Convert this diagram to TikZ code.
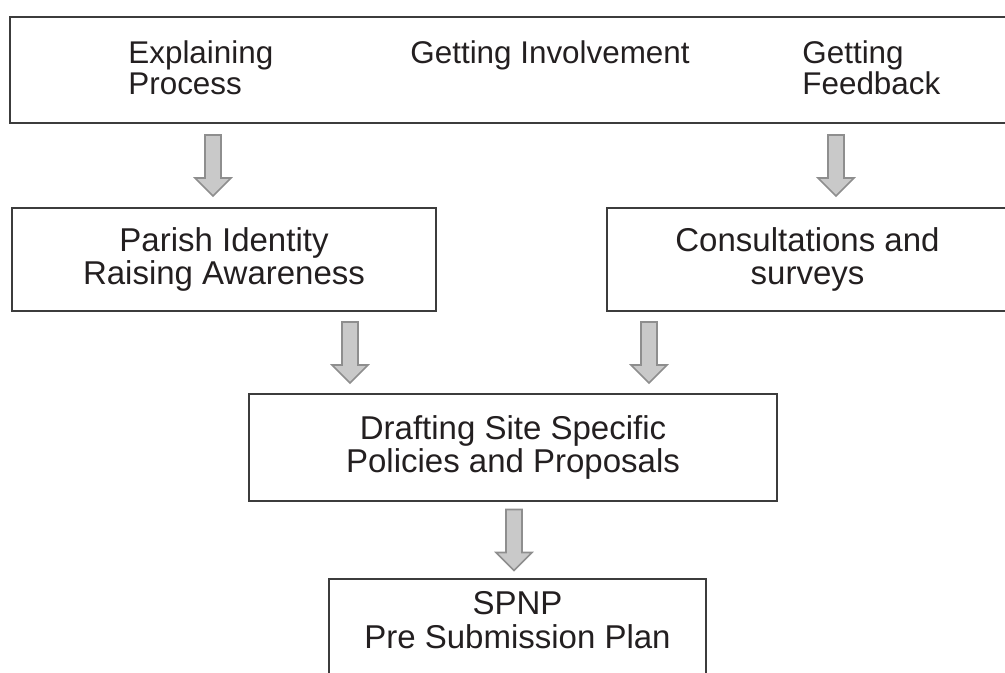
\documentclass[tikz,border=0pt]{standalone}
\usepackage{fontspec}
\setmainfont{Liberation Sans}
\usetikzlibrary{positioning, calc}

\definecolor{boxline}{HTML}{3C3C3C}
\definecolor{arrowline}{HTML}{8E8E8E}
\definecolor{arrowfill}{HTML}{C9C9C9}
\definecolor{inktext}{HTML}{231F20}

% block arrow centred in the gap between two boxes, #3 = x in px
\newcommand{\flowarrow}[3]{%
  \path[flowarrow] let \p1=($(#1.south)!0.5!(#2.north)$), \p2=(#3,0) in
    (\x2-4pt,\y1+15.25pt) -- (\x2+4pt,\y1+15.25pt) -- (\x2+4pt,\y1-6.25pt)
    -- (\x2+9pt,\y1-6.25pt) -- (\x2,\y1-15.25pt) -- (\x2-9pt,\y1-6.25pt)
    -- (\x2-4pt,\y1-6.25pt) -- cycle;}

\begin{document}
\begin{tikzpicture}[x=0.5pt, y=-0.5pt,
    box/.style={draw=boxline, line width=1pt, inner sep=0pt, align=center,
      text=inktext, font=\fontsize{16.5}{16.85}\selectfont},
    toptext/.style={inner sep=0pt, align=left, anchor=north west,
      text=inktext, font=\fontsize{15.7}{15.6}\selectfont},
    flowarrow/.style={draw=arrowline, fill=arrowfill, line width=0.8pt, line join=miter}]
    \clip (0,0) rectangle (1005,673);

    \node[box, minimum width=500pt, minimum height=53pt] (top) at (510,70) {};
    \node[toptext] (explain) at (128,40) {Explaining\\Process};
    \node[toptext] (involve) at (410,40) {Getting Involvement};
    \node[toptext] (feedback) at (802,40) {Getting\\Feedback};

    \node[box, minimum width=212pt, minimum height=51.5pt] (parish) at (224,259.5)
        {Parish Identity\\Raising Awareness};
    \node[box, minimum width=200.5pt, minimum height=51.5pt] (consult) at (807.5,259.5)
        {Consultations and\\surveys};
    \node[box, minimum width=264pt, minimum height=53.5pt] (draft) at (513,447.5)
        {Drafting Site Specific\\Policies and Proposals};
    \node[box, minimum width=188.5pt, minimum height=48pt, text depth=7pt] (plan) at (517.5,627)
        {SPNP\\Pre Submission Plan};

    \flowarrow{top}{parish}{213}
    \flowarrow{top}{consult}{836}
    \flowarrow{parish}{draft}{350}
    \flowarrow{consult}{draft}{649}
    \flowarrow{draft}{plan}{514}
\end{tikzpicture}
\end{document}
